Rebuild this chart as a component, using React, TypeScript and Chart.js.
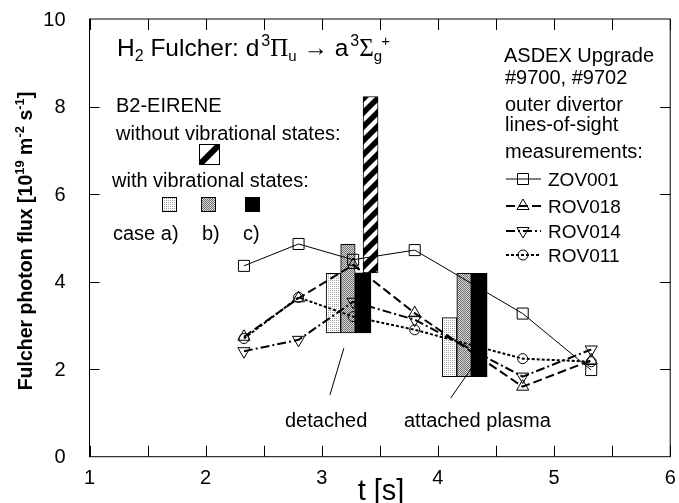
import React, { useEffect, useRef } from 'react';
import { Chart, registerables } from 'chart.js';

Chart.register(...registerables);

// ---- data ----
const times = [2.33, 2.8, 3.27, 3.8, 4.73, 5.32];
const zov001 = [4.36, 4.86, 4.5, 4.72, 3.27, 1.98];
const rov018 = [2.74, 3.62, 4.38, 3.28, 1.6, 2.2];
const rov014 = [2.41, 2.67, 3.54, 3.13, 1.83, 2.45];
const rov011 = [2.7, 3.64, 3.2, 2.9, 2.24, 2.17];
const seriesNames = ['ZOV001', 'ROV018', 'ROV014', 'ROV011'];

// B2-EIRENE bars: [time, low, high]
const caseATimes = [3.1, 4.1];
const caseALow = [2.83, 1.83];
const caseAHigh = [4.19, 3.18];
const caseBTimes = [3.225, 4.225];
const caseBLow = [2.83, 1.83];
const caseBHigh = [4.85, 4.19];
const caseCTimes = [3.355, 4.355];
const caseCLow = [2.83, 1.83];
const caseCHigh = [4.2, 4.19];
const noVibTimes = [3.42];
const noVibLow = [4.2];
const noVibHigh = [8.23];

const xMajorTicks = [1, 2, 3, 4, 5, 6];
const xMinorTicks = [1.5, 2.5, 3.5, 4.5, 5.5];
const yLabelTicks = [0, 2, 4, 6, 8, 10];
const yInnerTicks = [2, 4, 6, 8];

const FONT = '"Liberation Sans", Arial, Helvetica, sans-serif';
const SERIF = '"Liberation Serif", "Times New Roman", serif';

type Seg = { t: string; s: number; dy?: number; dx?: number; serif?: boolean; bold?: boolean };

function segFont(g: Seg) {
  return `${g.bold ? 'bold ' : ''}${g.s}px ${g.serif ? SERIF : FONT}`;
}
function richWidth(ctx: CanvasRenderingContext2D, segs: Seg[]) {
  let w = 0;
  for (const g of segs) {
    ctx.font = segFont(g);
    w += (g.dx || 0) + ctx.measureText(g.t).width;
  }
  return w;
}
function drawRich(ctx: CanvasRenderingContext2D, segs: Seg[], x: number, y: number) {
  let cx = x;
  for (const g of segs) {
    ctx.font = segFont(g);
    cx += g.dx || 0;
    ctx.fillText(g.t, cx, y + (g.dy || 0));
    cx += ctx.measureText(g.t).width;
  }
}

function makeDots(bg: string, fg: string, size: number, pts: number[][]) {
  const c = document.createElement('canvas');
  c.width = size;
  c.height = size;
  const g = c.getContext('2d')!;
  g.fillStyle = bg;
  g.fillRect(0, 0, size, size);
  g.fillStyle = fg;
  for (const [px, py] of pts) g.fillRect(px, py, 1, 1);
  return g.createPattern(c, 'repeat')!;
}
function makeStripes() {
  const P = 14;
  const c = document.createElement('canvas');
  c.width = P;
  c.height = P;
  const g = c.getContext('2d')!;
  g.fillStyle = '#fff';
  g.fillRect(0, 0, P, P);
  g.strokeStyle = '#000';
  g.lineWidth = 5.5;
  for (const k of [0, P, 2 * P]) {
    g.beginPath();
    g.moveTo(k - 2 * P, 2 * P);
    g.lineTo(k + P, -P);
    g.stroke();
  }
  return g.createPattern(c, 'repeat')!;
}

function drawMarker(ctx: CanvasRenderingContext2D, kind: string, x: number, y: number) {
  ctx.beginPath();
  if (kind === 'rect') {
    ctx.rect(x - 5.5, y - 5.5, 11, 11);
  } else if (kind === 'up') {
    const r = 7;
    ctx.moveTo(x, y - r);
    ctx.lineTo(x + r * 0.866, y + r * 0.5);
    ctx.lineTo(x - r * 0.866, y + r * 0.5);
    ctx.closePath();
  } else if (kind === 'down') {
    const r = 7;
    ctx.moveTo(x, y + r);
    ctx.lineTo(x + r * 0.866, y - r * 0.5);
    ctx.lineTo(x - r * 0.866, y - r * 0.5);
    ctx.closePath();
  } else {
    ctx.arc(x, y, 5, 0, Math.PI * 2);
  }
  ctx.stroke();
}

const lineStyles = [
  { width: 1, dash: [] as number[], marker: 'rect' },
  { width: 2, dash: [9, 4], marker: 'up' },
  { width: 2, dash: [9, 3, 2, 3], marker: 'down' },
  { width: 2, dash: [3, 2], marker: 'circle' },
];

export default function App() {
  const ref = useRef<HTMLCanvasElement>(null);
  useEffect(() => {
    const canvas = ref.current!;
    const lightPat = makeDots('#ffffff', '#a0a0a0', 2, [[0, 0]]);
    const grayPat = makeDots('#d8d8d8', '#707070', 2, [[0, 0], [1, 1]]);
    const stripePat = makeStripes();

    const seriesData = [zov001, rov018, rov014, rov011];
    const lineSets = seriesData.map((vals, i) => ({
      type: 'line' as const,
      label: seriesNames[i],
      data: times.map((t, j) => ({ x: t, y: vals[j] })),
      borderColor: '#000',
      borderWidth: lineStyles[i].width,
      borderDash: lineStyles[i].dash,
      tension: 0,
      fill: false,
      pointStyle: lineStyles[i].marker === 'rect' ? 'rect' : lineStyles[i].marker === 'circle' ? 'circle' : 'triangle',
      pointRotation: lineStyles[i].marker === 'down' ? 180 : 0,
      pointRadius: lineStyles[i].marker === 'rect' ? 7.8 : lineStyles[i].marker === 'circle' ? 5 : 7,
      pointBorderColor: '#000',
      pointBackgroundColor: 'rgba(0,0,0,0)',
      pointBorderWidth: 1,
      order: 0,
    }));

    const mkBar = (label: string, ts: number[], lo: number[], hi: number[], bg: any, thick: number) => ({
      type: 'bar' as const,
      label,
      data: ts.map((t, j) => ({ x: t, y: [lo[j], hi[j]] })),
      backgroundColor: bg,
      borderColor: '#000',
      borderWidth: 1,
      borderSkipped: false,
      grouped: false,
      barThickness: thick,
      order: 1,
    });

    const barSets = [
      mkBar('no vib', noVibTimes, noVibLow, noVibHigh, stripePat, 15),
      mkBar('case a)', caseATimes, caseALow, caseAHigh, lightPat, 14.5),
      mkBar('case b)', caseBTimes, caseBLow, caseBHigh, grayPat, 14.5),
      mkBar('case c)', caseCTimes, caseCLow, caseCHigh, '#000', 16),
    ];

    const decor = {
      id: 'decor',
      afterDraw(chart: any) {
        const ctx: CanvasRenderingContext2D = chart.ctx;
        const xs = chart.scales.x;
        const ys = chart.scales.y;
        const { left, right, top, bottom } = chart.chartArea;
        const X = (v: number) => xs.getPixelForValue(v);
        const Y = (v: number) => ys.getPixelForValue(v);
        ctx.save();
        ctx.strokeStyle = '#000';
        ctx.fillStyle = '#000';
        ctx.lineWidth = 1;
        ctx.setLineDash([]);
        // frame
        ctx.strokeRect(left, top, right - left, bottom - top);
        // ticks
        ctx.beginPath();
        for (const v of [...xMajorTicks, ...xMinorTicks]) {
          const px = Math.round(X(v)) + 0.5;
          ctx.moveTo(px, bottom);
          ctx.lineTo(px, bottom - 11);
          ctx.moveTo(px, top);
          ctx.lineTo(px, top + 11);
        }
        for (const v of yInnerTicks) {
          const py = Math.round(Y(v)) + 0.5;
          ctx.moveTo(left, py);
          ctx.lineTo(left + 10, py);
          ctx.moveTo(right, py);
          ctx.lineTo(right - 10, py);
        }
        ctx.stroke();
        // tick labels
        ctx.font = `20px ${FONT}`;
        ctx.textAlign = 'center';
        ctx.textBaseline = 'middle';
        for (const v of xMajorTicks) ctx.fillText(String(v), X(v), bottom + 22);
        ctx.textAlign = 'right';
        for (const v of yLabelTicks) ctx.fillText(String(v), left - 24, Y(v) + 1);
        // axis titles
        ctx.textBaseline = 'alphabetic';
        ctx.textAlign = 'left';
        ctx.font = `29px ${FONT}`;
        const tw = ctx.measureText('t [s]').width;
        ctx.fillText('t [s]', 381 - tw / 2, 500);
        const ySegs: Seg[] = [
          { t: 'Fulcher photon flux [10', s: 19.5, bold: true },
          { t: '19', s: 13, dy: -8, bold: true },
          { t: ' m', s: 19.5, bold: true },
          { t: '-2', s: 13, dy: -8, bold: true },
          { t: ' s', s: 19.5, bold: true },
          { t: '-1', s: 13, dy: -8, bold: true },
          { t: ']', s: 19.5, bold: true },
        ];
        ctx.save();
        ctx.translate(32, 241);
        ctx.rotate(-Math.PI / 2);
        drawRich(ctx, ySegs, -richWidth(ctx, ySegs) / 2, 0);
        ctx.restore();

        // title formula
        const tSegs: Seg[] = [
          { t: 'H', s: 24.5 },
          { t: '2', s: 16, dy: 5 },
          { t: ' Fulcher: d', s: 24.5 },
          { t: '3', s: 16, dy: -10, dx: 2 },
          { t: 'Π', s: 25, serif: true },
          { t: 'u', s: 15, dy: 5 },
          { t: ' → a', s: 24.5 },
          { t: '3', s: 16, dy: -10, dx: 2 },
          { t: 'Σ', s: 25, serif: true },
          { t: 'g', s: 15, dy: 5 },
          { t: '+', s: 15, dy: -10, dx: -1 },
        ];
        drawRich(ctx, tSegs, 117, 56);

        // left annotation block
        ctx.font = `20px ${FONT}`;
        ctx.fillText('B2-EIRENE', 116, 112);
        ctx.fillText('without vibrational states:', 116, 140);
        ctx.fillText('with vibrational states:', 112, 187);
        ctx.fillText('case a)', 113, 240);
        ctx.fillText('b)', 202, 240);
        ctx.fillText('c)', 243, 240);
        // striped swatch
        ctx.save();
        ctx.beginPath();
        ctx.rect(199.5, 144.5, 20, 20);
        ctx.clip();
        ctx.fillStyle = '#fff';
        ctx.fillRect(199, 144, 21, 21);
        ctx.strokeStyle = '#000';
        ctx.lineWidth = 6;
        ctx.beginPath();
        ctx.moveTo(197, 167);
        ctx.lineTo(222, 142);
        ctx.stroke();
        ctx.restore();
        ctx.lineWidth = 1;
        ctx.strokeRect(199.5, 144.5, 20, 20);
        // vib swatches
        const sw: [any, number][] = [[lightPat, 162], [grayPat, 201], ['#000', 245]];
        for (const [f, sx] of sw) {
          ctx.fillStyle = f;
          ctx.fillRect(sx, 197, 15, 15);
          ctx.strokeRect(sx + 0.5, 197.5, 14, 14);
        }
        ctx.fillStyle = '#000';

        // right block
        ctx.font = `20px ${FONT}`;
        const rx = 505;
        ctx.fillText('ASDEX Upgrade', rx - 1, 62);
        ctx.fillText('#9700, #9702', rx, 84);
        ctx.fillText('outer divertor', rx, 111);
        ctx.fillText('lines-of-sight', rx, 131);
        ctx.fillText('measurements:', rx, 158);
        ctx.font = `19px ${FONT}`;
        const legY = [186, 213, 238, 262];
        for (let i = 0; i < 4; i++) {
          const ly = legY[i] - 7;
          ctx.fillText(seriesNames[i], 548, legY[i]);
          ctx.lineWidth = lineStyles[i].width;
          ctx.setLineDash(lineStyles[i].dash);
          ctx.beginPath();
          ctx.moveTo(506, ly);
          ctx.lineTo(541, ly);
          ctx.stroke();
          ctx.setLineDash([]);
          ctx.lineWidth = 1;
          drawMarker(ctx, lineStyles[i].marker, 523, ly);
        }

        // bottom labels + pointers
        ctx.font = `20px ${FONT}`;
        ctx.fillText('detached', 285, 427);
        ctx.fillText('attached plasma', 404, 427);
        ctx.beginPath();
        ctx.moveTo(X(3.19), Y(2.48));
        ctx.lineTo(X(3.07), Y(1.41));
        ctx.moveTo(X(4.386), Y(2.39));
        ctx.lineTo(X(4.11), Y(1.34));
        ctx.stroke();
        ctx.restore();
      },
    };

    const chart = new Chart(canvas, {
      type: 'bar',
      data: { datasets: [...lineSets, ...barSets] as any },
      options: {
        animation: false,
        responsive: false,
        layout: { padding: { left: 89.5, right: 4, top: 19, bottom: 46.3 } },
        plugins: { legend: { display: false }, tooltip: { enabled: false } },
        scales: {
          x: { type: 'linear', min: 1, max: 6, display: false, offset: false },
          y: { type: 'linear', min: 0, max: 10, display: false },
        },
      } as any,
      plugins: [decor],
    });
    return () => chart.destroy();
  }, []);

  return (
    <div style={{ position: 'fixed', left: 0, top: 0, width: 679, height: 503, background: '#fff' }}>
      <canvas ref={ref} width={679} height={503} style={{ width: 679, height: 503, display: 'block' }} />
    </div>
  );
}
